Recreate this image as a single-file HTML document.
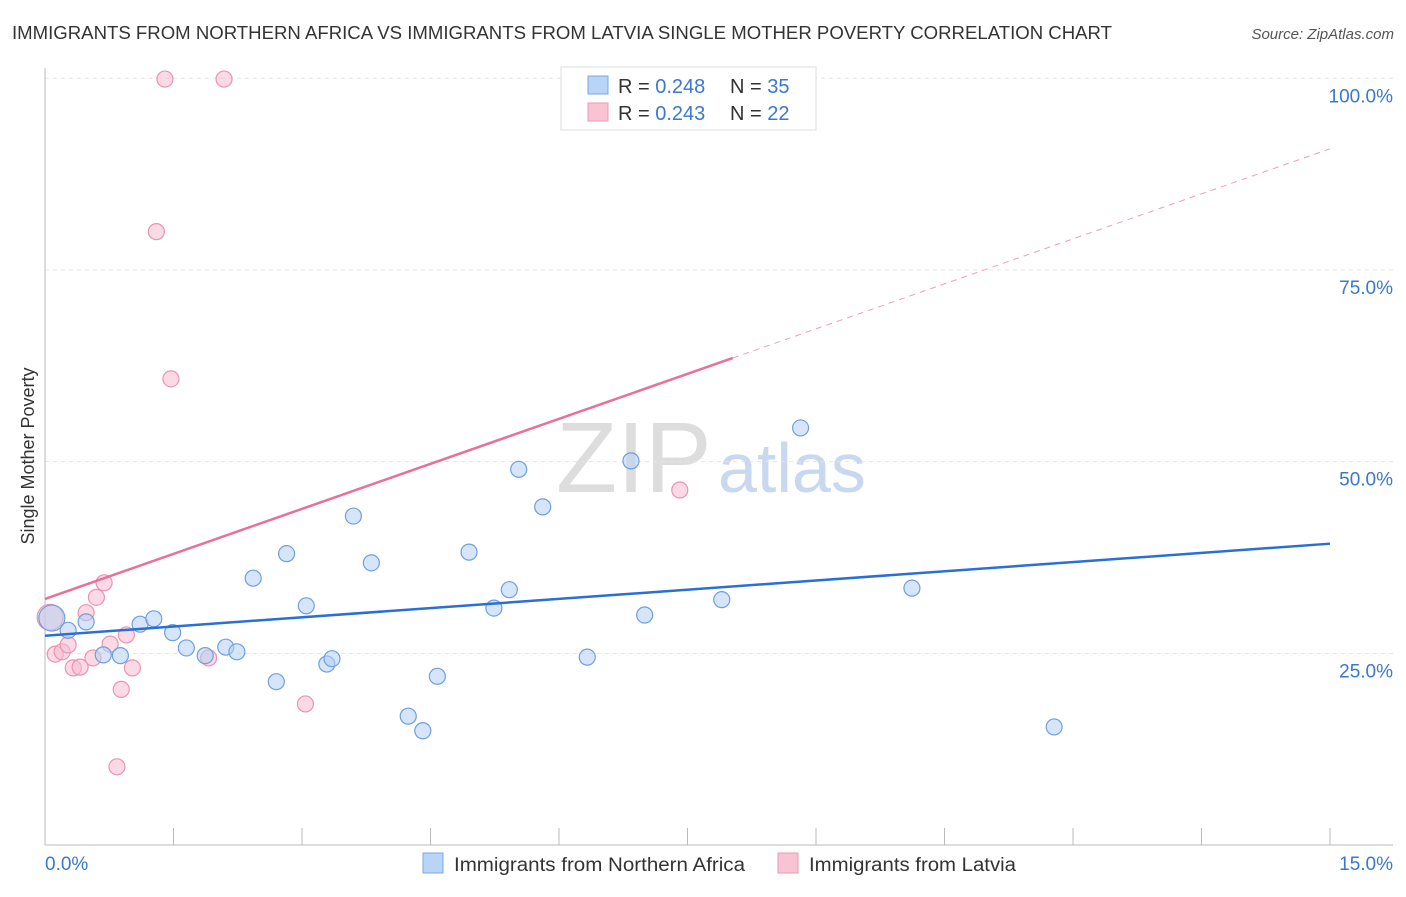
<!DOCTYPE html>
<html><head><meta charset="utf-8"><style>
body{margin:0;background:#fff;font-family:"Liberation Sans",sans-serif;}
svg text{font-family:"Liberation Sans",sans-serif;}
</style></head><body>
<svg id="chart" width="1406" height="892">
<text x="12" y="39" font-size="18" fill="#333" textLength="1100" lengthAdjust="spacingAndGlyphs">IMMIGRANTS FROM NORTHERN AFRICA VS IMMIGRANTS FROM LATVIA SINGLE MOTHER POVERTY CORRELATION CHART</text>
<text x="1394" y="39" font-size="15" fill="#555" font-style="italic" text-anchor="end">Source: ZipAtlas.com</text>
<text x="556" y="492" font-size="100" fill="#ddd" font-family="Liberation Serif">ZIP</text>
<text x="718" y="492" font-size="70" fill="#c8d8ee">atlas</text>
<g id="grid"></g>
<g id="axes"></g>
<g id="marks"></g>
<text x="34" y="456" font-size="18" fill="#333" transform="rotate(-90 34 456)" text-anchor="middle">Single Mother Poverty</text>
<g>
<rect x="561" y="67" width="255" height="63" fill="#fff" stroke="#ddd"/>
<rect x="588" y="76" width="20" height="18" fill="#b8d4f6" stroke="#7aa9e6"/>
<text x="618" y="93" font-size="20" fill="#333">R = <tspan fill="#3a78d0">0.248</tspan></text>
<text x="730" y="93" font-size="20" fill="#333">N = <tspan fill="#3a78d0">35</tspan></text>
<rect x="588" y="103" width="20" height="18" fill="#f8c4d4" stroke="#ec9ab4"/>
<text x="618" y="120" font-size="20" fill="#333">R = <tspan fill="#3a78d0">0.243</tspan></text>
<text x="730" y="120" font-size="20" fill="#333">N = <tspan fill="#3a78d0">22</tspan></text>
</g>
<g>
<rect x="423" y="853" width="20" height="20" fill="#b8d4f6" stroke="#7aa9e6"/>
<text x="454" y="871" font-size="19" fill="#333" textLength="291" lengthAdjust="spacingAndGlyphs">Immigrants from Northern Africa</text>
<rect x="778" y="853" width="20" height="20" fill="#f8c4d4" stroke="#ec9ab4"/>
<text x="809" y="871" font-size="19" fill="#333" textLength="207" lengthAdjust="spacingAndGlyphs">Immigrants from Latvia</text>
</g>
</svg>
<script>
const blueX=[0.08,0.27,0.48,0.68,0.88,1.11,1.27,1.49,1.65,1.87,2.11,2.24,2.43,2.70,2.82,3.05,3.29,3.35,3.60,3.81,4.24,4.41,4.58,4.95,5.24,5.42,5.53,5.81,6.33,6.84,7.00,7.90,8.82,10.12,11.78];
const blueY=[29.6,28.0,29.1,24.8,24.7,28.8,29.5,27.7,25.7,24.7,25.8,25.2,34.8,21.3,38.0,31.2,23.6,24.3,42.9,36.8,16.8,14.9,22.0,38.2,30.9,33.3,49.0,44.1,24.5,50.1,30.0,32.0,54.4,33.5,15.4];
const pinkX=[0.06,0.12,0.20,0.27,0.33,0.41,0.48,0.56,0.60,0.69,0.76,0.84,0.89,0.95,1.02,1.30,1.40,1.47,1.91,2.09,3.04,7.41];
const pinkY=[29.7,24.9,25.2,26.1,23.1,23.2,30.3,24.4,32.3,34.2,26.2,10.2,20.3,27.4,23.1,80.0,99.9,60.8,24.4,99.9,18.4,46.3];
const yTicks=[25,50,75,100];
const yTickLabels=["25.0%","50.0%","75.0%","100.0%"];
const blueTrend=[27.3,39.3];
const pinkTrend=[32.1,90.8];
const pinkSolidEnd=8.03;
const NS="http://www.w3.org/2000/svg";
const xs=v=>45+v/15*1285;
const ys=v=>845-v/100*766.7;
function mk(t,a,p){const e=document.createElementNS(NS,t);for(const k in a)e.setAttribute(k,a[k]);p.appendChild(e);return e;}
const grid=document.getElementById('grid'),axes=document.getElementById('axes'),marks=document.getElementById('marks');
yTicks.forEach((t,i)=>{
 const l=mk('line',{x1:45,x2:1393,y1:ys(t),y2:ys(t),stroke:'#e4e4e4','stroke-dasharray':'4,4'},grid);
 
 
 const tx=mk('text',{x:1393,y:ys(t)+24,'font-size':19,fill:'#3a78d0','text-anchor':'end'},axes);
 tx.textContent=yTickLabels[i];
 
 
});
const xa=mk('line',{x1:45,x2:1393,y1:845,y2:845,stroke:'#bbb'},axes);


const ya=mk('line',{x1:45,x2:45,y1:68,y2:845,stroke:'#bbb'},axes);


for(let i=0;i<=10;i++){const t=mk('line',{x1:xs(i*1.5),x2:xs(i*1.5),y1:828,y2:845,stroke:'#bbb'},axes);
 
 }
const x0=mk('text',{x:45,y:870,'font-size':19,fill:'#3a78d0'},axes);x0.textContent='0.0%';


const x1=mk('text',{x:1393,y:870,'font-size':19,fill:'#3a78d0','text-anchor':'end'},axes);x1.textContent='15.0%';


function pts(X,Y,fill,stroke,name){X.forEach((x,i)=>{const r=i===0?13:8;
 const c=mk('circle',{cx:xs(x),cy:ys(Y[i]),r:r,fill:fill,'fill-opacity':0.55,stroke:stroke,'stroke-width':1.2},marks);
 
 });}
pts(pinkX,pinkY,'#f8bcd0','#ea94b0','point-latvia');
pts(blueX,blueY,'#b4d0f4','#6e9fe0','point-northern-africa');
const bl=mk('line',{x1:xs(0),y1:ys(blueTrend[0]),x2:xs(15),y2:ys(blueTrend[1]),stroke:'#2a6fd6','stroke-width':2.5},marks);


const pm=pinkTrend[0]+(pinkTrend[1]-pinkTrend[0])*pinkSolidEnd/15;
const pl=mk('line',{x1:xs(0),y1:ys(pinkTrend[0]),x2:xs(pinkSolidEnd),y2:ys(pm),stroke:'#e8709a','stroke-width':2.5},marks);


const pd=mk('line',{x1:xs(pinkSolidEnd),y1:ys(pm),x2:xs(15),y2:ys(pinkTrend[1]),stroke:'#eca0ba','stroke-width':1,'stroke-dasharray':'6,5'},marks);


</script>
</body></html>
